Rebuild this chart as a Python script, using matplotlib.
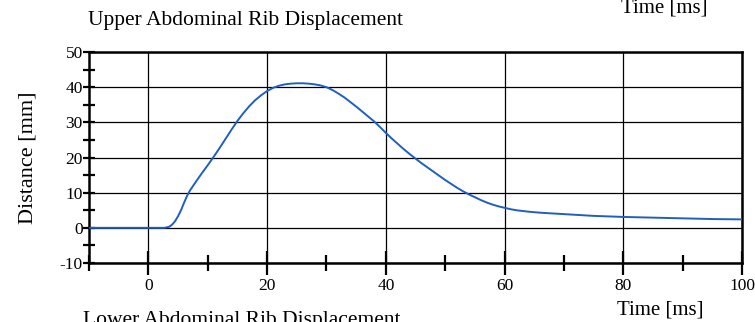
import matplotlib.pyplot as plt
from matplotlib.ticker import MultipleLocator

plt.rcParams.update(
    {
        "font.family": "serif",
        "font.serif": ["Liberation Serif", "DejaVu Serif"],
        "font.size": 12.5,
        "axes.unicode_minus": False,
    }
)

# upper abdominal rib displacement trace
time_ms = [-10, 0, 2.7, 3.5, 4, 4.5, 5, 5.5, 6, 6.5, 7, 8, 9, 10, 11, 12,
           13, 14, 15, 16, 17, 18, 19, 20, 21, 22, 23, 24, 25, 26, 27, 28,
           29, 30, 31, 32, 33, 34, 35, 36, 37, 38, 39, 40, 41, 42, 43, 44,
           45, 46, 47, 48, 49, 50, 51, 52, 53, 54, 55, 56, 57, 58, 59, 60,
           61, 62, 64, 66, 70, 75, 80, 85, 90, 95, 100]
disp_mm = [0, 0, 0, 0.3, 0.9, 1.9, 3.3, 5.0, 7.1, 9.0, 10.6, 13.1, 15.5,
           17.8, 20.2, 22.7, 25.3, 27.9, 30.4, 32.6, 34.6, 36.3, 37.7, 38.9,
           39.8, 40.4, 40.8, 41.0, 41.1, 41.1, 41.0, 40.8, 40.5, 40.0, 39.2,
           38.2, 37.1, 35.8, 34.5, 33.1, 31.7, 30.3, 28.7, 27.0, 25.4, 23.9,
           22.4, 21.0, 19.7, 18.4, 17.2, 16.0, 14.8, 13.6, 12.5, 11.4, 10.4,
           9.5, 8.7, 7.9, 7.2, 6.6, 6.1, 5.7, 5.3, 5.0, 4.6, 4.3, 3.9, 3.4,
           3.1, 2.9, 2.7, 2.5, 2.4]

x_ticks = [0, 20, 40, 60, 80, 100]
y_ticks = [-10, 0, 10, 20, 30, 40, 50]

W, H = 755, 322
fig = plt.figure(figsize=(W / 100, H / 100), dpi=100)
ax = fig.add_axes([89 / W, 1 - 263 / H, 653 / W, 211 / H])

ax.plot(time_ms, disp_mm, color="#1f5fc0", lw=1.4, zorder=3,
        solid_joinstyle="round")

ax.set_xlim(-10, 100)
ax.set_ylim(-10, 50)
ax.set_xticks(x_ticks)
ax.set_yticks(y_ticks)
ax.xaxis.set_minor_locator(MultipleLocator(10))
ax.yaxis.set_minor_locator(MultipleLocator(5))

ax.grid(True, which="major", color="k", lw=0.9)

for side in ["left", "bottom", "top", "right"]:
    ax.spines[side].set_linewidth(1.8)

ax.tick_params(axis="x", which="major", direction="inout", length=17,
               width=1.6, pad=2)
ax.tick_params(axis="x", which="minor", direction="inout", length=11,
               width=1.6)
ax.tick_params(axis="y", which="major", direction="inout", length=9,
               width=1.6, pad=0)
ax.tick_params(axis="y", which="minor", direction="inout", length=9,
               width=1.6)

ax.set_ylabel("Distance [mm]", fontsize=16, labelpad=16)

fig.text(88 / W, 1 - 25 / H, "Upper Abdominal Rib Displacement",
         fontsize=15.5, va="baseline", ha="left")
fig.text(617 / W, 1 - 314 / H, "Time [ms]", fontsize=15,
         va="baseline", ha="left")
# neighbouring panels cut off at the page edges
fig.text(621 / W, 1 - 13 / H, "Time [ms]", fontsize=15,
         va="baseline", ha="left")
fig.text(83 / W, 1 - 325 / H, "Lower Abdominal Rib Displacement",
         fontsize=15.5, va="baseline", ha="left")

fig.savefig("out.png", dpi=100)
plt.close(fig)
